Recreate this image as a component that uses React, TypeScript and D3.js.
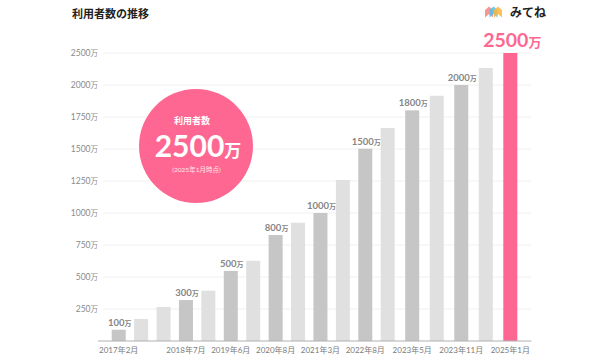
import React from "react";
import * as d3 from "d3";

const periods = ["2017年2月", "", "", "2018年7月", "", "2019年6月", "", "2020年8月", "", "2021年3月", "", "2022年8月", "", "2023年5月", "", "2023年11月", "", "2025年1月"];
const users = [88, 172, 266, 320, 393, 547, 627, 828, 924, 1000, 1258, 1502, 1664, 1802, 1916, 2000, 2265, 2500];
const milestoneLabels = ["100", "", "", "300", "", "500", "", "800", "", "1000", "", "1500", "", "1800", "", "2000", "", "2500"];
const yTicks = [250, 500, 750, 1000, 1250, 1500, 1750, 2000, 2500];

const FONT = "Lato, 'Noto Sans CJK JP', sans-serif";
const PINK = "#fe6791";

export default function App() {
  const W = 590, H = 358;
  const idx = d3.range(users.length);
  const x = d3.scaleLinear().domain([0, 12, 17]).range([111.7, 380.7, 503.3]);
  const bw = 14;
  const y = d3.scaleLinear().domain([0, 2000, 2500]).range([341, 85, 53]);
  const last = users.length - 1;

  return (
    <svg width={W} height={H} style={{ position: "absolute", left: 0, top: 0, background: "#fff" }} fontFamily={FONT}>
      {/* title */}
      <text x={72} y={17.5} fontSize={11} fontWeight={700} fill="#222">利用者数の推移</text>
      {/* logo */}
      <g>
        <polygon points="485,17.5 485,10 489,6.5 493,10 493,17.5 489,14" fill="#f98a8a" opacity={0.9} />
        <polygon points="489.5,17.5 489.5,10 493.5,6.5 497.5,10 497.5,17.5 493.5,14" fill="#4fc3e8" opacity={0.85} />
        <polygon points="494,17.5 494,10 498,6.5 502,10 502,17.5 498,14" fill="#ffb43c" opacity={0.85} />
      </g>
      <text x={510} y={17} fontSize={12} fontWeight={700} fill="#222" fontFamily="'Noto Sans CJK JP', sans-serif">みてね</text>

      {/* gridlines */}
      {yTicks.map((t) => (
        <g key={t}>
          <line x1={103} x2={531} y1={y(t)} y2={y(t)} stroke="#f0f0f0" strokeWidth={1} />
          <text x={98} y={y(t) + 3} textAnchor="end" fontSize={8.5} fill="#8a8a8a">
            {t}<tspan fontSize={7.5}>万</tspan>
          </text>
        </g>
      ))}

      {/* circle badge */}
      <circle cx={196} cy={146} r={57} fill={PINK} />
      <text x={192} y={124} textAnchor="middle" fontSize={9} fontWeight={700} fill="#fff">利用者数</text>
      <text x={198} y={156.5} textAnchor="middle" fontSize={30} fontWeight={700} fill="#fff">
        2500<tspan fontSize={17}>万</tspan>
      </text>
      <text x={196.5} y={171.5} textAnchor="middle" fontSize={6.5} fill="#fff" opacity={0.85}>(2025年1月時点)</text>

      {/* bars */}
      {idx.map((i) => {
        const fill = i === last ? PINK : milestoneLabels[i] ? "#c6c6c6" : "#e0e0e0";
        return <rect key={i} x={x(i)} y={y(users[i])} width={bw} height={y(0) - y(users[i])} fill={fill} />;
      })}

      {/* baseline */}
      <line x1={98} x2={531.5} y1={341} y2={341} stroke="#b0b0b0" strokeWidth={1} />

      {/* milestone labels */}
      {idx.map((i) => {
        const lab = milestoneLabels[i];
        if (!lab) return null;
        if (i === last) {
          return (
            <text key={i} x={x(i) + bw / 2 + 2} y={46.5} textAnchor="middle" fontSize={19.5} fontWeight={700} fill={PINK}>
              {lab}<tspan fontSize={13}>万</tspan>
            </text>
          );
        }
        return (
          <text key={i} x={x(i) + bw / 2 + 1} y={y(users[i]) - 4} textAnchor="middle" fontSize={9.5} fontWeight={700} fill="#858585">
            {lab}<tspan fontSize={7}>万</tspan>
          </text>
        );
      })}

      {/* x labels */}
      {idx.map((i) =>
        periods[i] ? (
          <text key={i} x={x(i) + bw / 2} y={353} textAnchor="middle" fontSize={8} fill="#7a7a7a">
            {periods[i]}
          </text>
        ) : null
      )}
    </svg>
  );
}
